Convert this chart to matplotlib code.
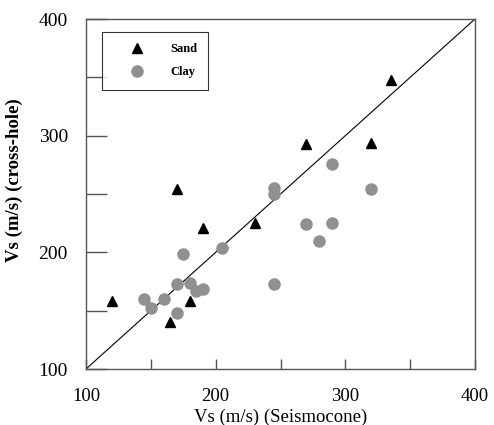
import matplotlib
matplotlib.use("Agg")
import matplotlib.pyplot as plt
from matplotlib.ticker import MultipleLocator

plt.rcParams['font.family'] = ['Liberation Serif', 'DejaVu Serif']

sand_x = [120, 170, 190, 230, 270, 320, 335, 180, 165]
sand_y = [158, 254, 221, 225, 293, 294, 348, 158, 140]

clay_x = [290, 245, 245, 320, 270, 290, 280, 205, 175, 245, 170, 180, 185, 190, 145, 160, 150, 170]
clay_y = [276, 255, 250, 254, 224, 225, 210, 204, 199, 173, 173, 174, 167, 169, 160, 160, 152, 148]

line_x = [100, 400]
line_y = [100, 400]

xticks = [100, 200, 300, 400]
yticks = [100, 200, 300, 400]

fig = plt.figure(figsize=(4.94, 4.25), dpi=100)
ax = fig.add_axes([86/494, 56/425, 389/494, 350/425])

ax.plot(line_x, line_y, color='black', lw=0.8, zorder=2)
ax.plot(clay_x, clay_y, 'o', color='#909090', ms=8, mec='#909090', label='Clay', zorder=3, linestyle='none')
ax.plot(sand_x, sand_y, '^', color='black', ms=7, label='Sand', zorder=4, linestyle='none')

ax.set_xlim(100, 400)
ax.set_ylim(100, 400)
ax.set_xticks(xticks)
ax.set_yticks(yticks)
ax.xaxis.set_minor_locator(MultipleLocator(50))
ax.yaxis.set_minor_locator(MultipleLocator(50))
ax.tick_params(axis='x', which='both', direction='in', length=7, width=1, color='#555555', pad=14, labelsize=13.5)
ax.tick_params(axis='y', which='both', direction='in', length=15, width=1, color='#555555', pad=13, labelsize=14)
ax.tick_params(axis='both', which='both', top=False, right=False)
for s in ax.spines.values():
    s.set_color('#555555')
    s.set_linewidth(1)

ax.set_xlabel('Vs (m/s) (Seismocone)', fontsize=13.5)
ax.set_ylabel('Vs (m/s) (cross-hole)', fontsize=13.5, fontweight='bold')
ax.yaxis.set_label_coords(-0.162, 0.54)
ax.xaxis.set_label_coords(0.5, -0.112)

handles, labels = ax.get_legend_handles_labels()
leg = ax.legend(handles[::-1], labels[::-1], loc='upper left', bbox_to_anchor=(0.041, 0.963),
                frameon=True, fancybox=False, edgecolor='black',
                prop={'size': 9, 'weight': 'bold'},
                borderpad=0.9, handletextpad=0.72, labelspacing=0.9, borderaxespad=0,
                handlelength=3.84)
leg.get_frame().set_linewidth(0.8)

fig.savefig('out.png', dpi=100)
